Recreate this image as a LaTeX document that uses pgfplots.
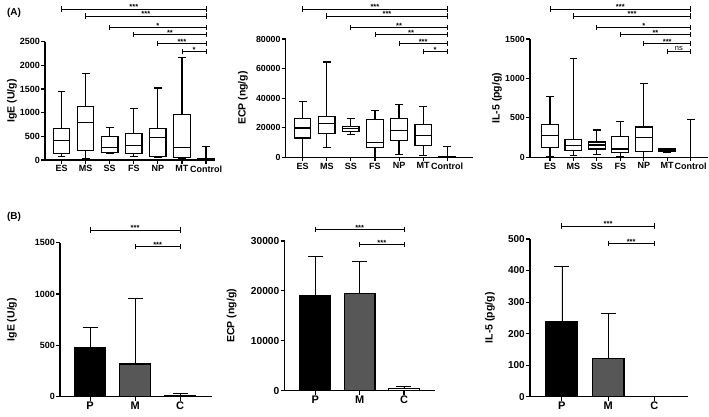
\documentclass[border=0pt]{standalone}
\usepackage{pgfplots}
\pgfplotsset{compat=1.18}
\usepackage{fontspec}
\setmainfont{Liberation Sans}

% significance bracket: x1, x2, y, label, label x
\newcommand{\sig}[5]{%
  \draw[line width=0.8pt] (axis cs:#1,#3) -- (axis cs:#2,#3);
  \draw[line width=0.8pt] ([yshift=-2.6pt]axis cs:#1,#3) -- ([yshift=2.6pt]axis cs:#1,#3);
  \draw[line width=0.8pt] ([yshift=-2.6pt]axis cs:#2,#3) -- ([yshift=2.6pt]axis cs:#2,#3);
  \node[font=\bfseries\fontsize{7.5}{8}\selectfont, anchor=base, inner sep=0pt] at ([yshift=-0.8pt]axis cs:#5,#3) {#4};
}
\newcommand{\signs}[5]{%
  \draw[line width=0.8pt] (axis cs:#1,#3) -- (axis cs:#2,#3);
  \draw[line width=0.8pt] ([yshift=-2.6pt]axis cs:#1,#3) -- ([yshift=2.6pt]axis cs:#1,#3);
  \draw[line width=0.8pt] ([yshift=-2.6pt]axis cs:#2,#3) -- ([yshift=2.6pt]axis cs:#2,#3);
  \node[font=\fontsize{7.5}{8}\selectfont, anchor=base, inner sep=0pt] at ([yshift=1.6pt]axis cs:#5,#3) {#4};
}
% box plot: x left, x right, x centre, lower whisker, Q1, median, Q3, upper whisker
\newcommand{\bxp}[8]{%
  \addplot[black, line width=1.2pt] coordinates {(#3,#4) (#3,#8)};
  \addplot[black, line width=1.2pt, only marks, mark=-, mark size=3.85pt] coordinates {(#3,#4) (#3,#8)};
  \addplot[black, line width=1.2pt, line cap=rect, fill=white] coordinates {(#1,#5) (#2,#5) (#2,#7) (#1,#7) (#1,#5)};
  \addplot[black, line width=1.2pt] coordinates {(#1,#6) (#2,#6)};
}

\pgfplotsset{
  base/.style={
    scale only axis, anchor=south west,
    axis lines=left, axis line style={-, line width=1.1pt},
    /pgf/number format/assume math mode=true,
    /pgf/number format/set thousands separator={},
    scaled y ticks=false,
    tick style={line width=1.1pt, black},
    major tick length=3.8pt,
    tick align=outside, tick pos=left,
    ymin=0, clip=false,
    yticklabel style={inner sep=1.2pt},
    xticklabel style={inner sep=1.5pt},
    ylabel style={font=\bfseries\fontsize{10.5}{12}\selectfont, inner sep=0pt, anchor=south},
  },
  ylabx/.style={ylabel style={at={(axis description cs:#1,0.5)}}},
  toprow/.style={
    base, height=118.3pt,
    xtick={0,...,6}, xticklabels={ES,MS,SS,FS,NP,MT,Control},
    xticklabel style={font=\bfseries\fontsize{9}{10}\selectfont},
  },
  botrow/.style={
    base,
    xtick={0,1,2}, xticklabels={P,M,C},
    xticklabel style={font=\bfseries\fontsize{11}{12}\selectfont},
  },
  br/.style={ybar, bar width=0.69, bar shift=0pt, draw=black, line width=1.2pt,
    error bars/y dir=plus, error bars/y explicit,
    error bars/error bar style={line width=0.6pt, black},
    error bars/error mark options={rotate=90, black, line width=0.6pt, mark size=7.5pt}},
}

\begin{document}
\begin{tikzpicture}
\useasboundingbox (0pt,0pt) rectangle (709pt,-417pt);
\node[font=\bfseries\fontsize{10}{12}\selectfont] at (14pt,-12.5pt) {(A)};
\node[font=\bfseries\fontsize{10}{12}\selectfont] at (14pt,-217pt) {(B)};

% ---------- A1 IgE ----------
\begin{axis}[toprow, at={(45pt,-160pt)}, width=168pt,
  xmin=-0.69, xmax=6.29, ymax=2500, ytick={0,500,...,2500},
  yticklabel style={font=\bfseries\fontsize{9}{10}\selectfont},
  ylabel={IgE (U/g)}, ylabx=-0.167]
\bxp{-0.34}{0.34}{0}{70}{134}{420}{662}{1450}
\bxp{0.66}{1.34}{1}{35}{197}{788}{1126}{1830}
\bxp{1.66}{2.34}{2}{150}{160}{260}{490}{690}
\bxp{2.66}{3.34}{3}{70}{130}{300}{560}{1080}
\bxp{3.66}{4.34}{4}{50}{70}{470}{660}{1520}
\bxp{4.66}{5.34}{5}{30}{60}{270}{960}{2170}
\bxp{5.66}{6.34}{6}{0}{0}{25}{25}{290}
\sig{0}{6}{3191}{***}{3}
\sig{1}{6}{3043}{***}{3.5}
\sig{2}{6}{2804}{*}{4}
\sig{3}{6}{2656}{**}{4.5}
\sig{4}{6}{2466}{***}{5}
\sig{5}{6}{2289}{*}{5.5}
\end{axis}

% ---------- A2 ECP ----------
\begin{axis}[toprow, at={(285.7pt,-157.3pt)}, width=187.3pt,
  xmin=-0.705, xmax=7.07, ymax=80000, ytick={0,20000,...,80000},
  yticklabel style={font=\bfseries\fontsize{8.8}{10}\selectfont},
  ylabel={ECP (ng/g)}, ylabx=-0.201]
\bxp{-0.34}{0.34}{0}{0}{13000}{19800}{26500}{38000}
\bxp{0.66}{1.34}{1}{6500}{16000}{23000}{27500}{64500}
\bxp{1.66}{2.34}{2}{15500}{17500}{19500}{21000}{26000}
\bxp{2.66}{3.34}{3}{0}{6500}{10000}{25500}{31500}
\bxp{3.66}{4.34}{4}{2000}{11500}{18000}{26500}{35500}
\bxp{4.66}{5.34}{5}{1000}{8000}{14500}{22000}{34500}
\bxp{5.66}{6.34}{6}{0}{0}{500}{700}{7500}
\sig{0}{6}{100295}{***}{3}
\sig{1}{6}{95562}{***}{3.5}
\sig{2}{6}{87920}{**}{4}
\sig{3}{6}{83187}{**}{4.5}
\sig{4}{6}{77101}{***}{5}
\sig{5}{6}{71420}{*}{5.5}
\end{axis}

% ---------- A3 IL-5 ----------
\begin{axis}[toprow, at={(530pt,-157.3pt)}, width=178pt,
  xmin=-0.853, xmax=6.74, ymax=1500, ytick={0,500,1000,1500},
  yticklabel style={font=\bfseries\fontsize{8.8}{10}\selectfont},
  ylabel={IL-5 (pg/g)}, ylabx=-0.157]
\bxp{-0.36}{0.36}{0}{10}{120}{275}{420}{770}
\bxp{0.64}{1.36}{1}{20}{90}{145}{225}{1255}
\bxp{1.64}{2.36}{2}{40}{105}{155}{195}{345}
\bxp{2.64}{3.36}{3}{10}{65}{105}{265}{450}
\bxp{3.64}{4.36}{4}{0}{75}{255}{385}{935}
\bxp{4.64}{5.36}{5}{60}{70}{90}{105}{110}
\bxp{5.64}{6.36}{6}{0}{0}{0}{0}{480}
\sig{0}{6}{1880}{***}{3}
\sig{1}{6}{1792}{***}{3.5}
\sig{2}{6}{1648}{*}{4}
\sig{3}{6}{1560}{**}{4.5}
\sig{4}{6}{1446}{***}{5}
\signs{5}{6}{1339}{ns}{5.5}
\end{axis}

% ---------- B1 IgE ----------
\begin{axis}[botrow, at={(60pt,-396.7pt)}, width=151.7pt, height=154pt,
  xmin=-0.667, xmax=2.70, ymax=1500, ytick={0,500,1000,1500},
  yticklabel style={font=\bfseries\fontsize{9}{10}\selectfont},
  ylabel={IgE (U/g)}, ylabx=-0.283]
\addplot[br, fill=black] coordinates {(0,477) +- (0,199)};
\addplot[br, fill=black!66] coordinates {(1,318) +- (0,640)};
\addplot[br, fill=white] coordinates {(2,10) +- (0,19)};
\sig{0}{2}{1624}{***}{1}
\sig{1}{2}{1461}{***}{1.5}
\end{axis}

% ---------- B2 ECP ----------
\begin{axis}[botrow, at={(284.5pt,-390.7pt)}, width=150.5pt, height=149.7pt,
  xmin=-0.695, xmax=2.70, ymax=30000, ytick={0,10000,20000,30000},
  yticklabel style={font=\bfseries\fontsize{10.2}{12}\selectfont},
  ylabel={ECP (ng/g)}, ylabx=-0.317]
\addplot[br, fill=black] coordinates {(0,19100) +- (0,7800)};
\addplot[br, fill=black!66] coordinates {(1,19500) +- (0,6400)};
\addplot[br, fill=white] coordinates {(2,400) +- (0,400)};
\sig{0}{2}{32345}{***}{1}
\sig{1}{2}{29339}{***}{1.5}
\end{axis}

% ---------- B3 IL-5 ----------
\begin{axis}[botrow, at={(530pt,-396.7pt)}, width=158pt, height=157.7pt,
  xmin=-0.69, xmax=2.73, ymax=500, ytick={0,100,...,500},
  yticklabel style={font=\bfseries\fontsize{10}{12}\selectfont},
  ylabel={IL-5 (pg/g)}, ylabx=-0.222]
\addplot[br, fill=black] coordinates {(0,238) +- (0,175)};
\addplot[br, fill=black!66] coordinates {(1,120) +- (0,145)};
\addplot[br, fill=white] coordinates {(2,0) +- (0,0)};
\sig{0}{2}{541}{***}{1}
\sig{1}{2}{486}{***}{1.5}
\end{axis}
\end{tikzpicture}
\end{document}
